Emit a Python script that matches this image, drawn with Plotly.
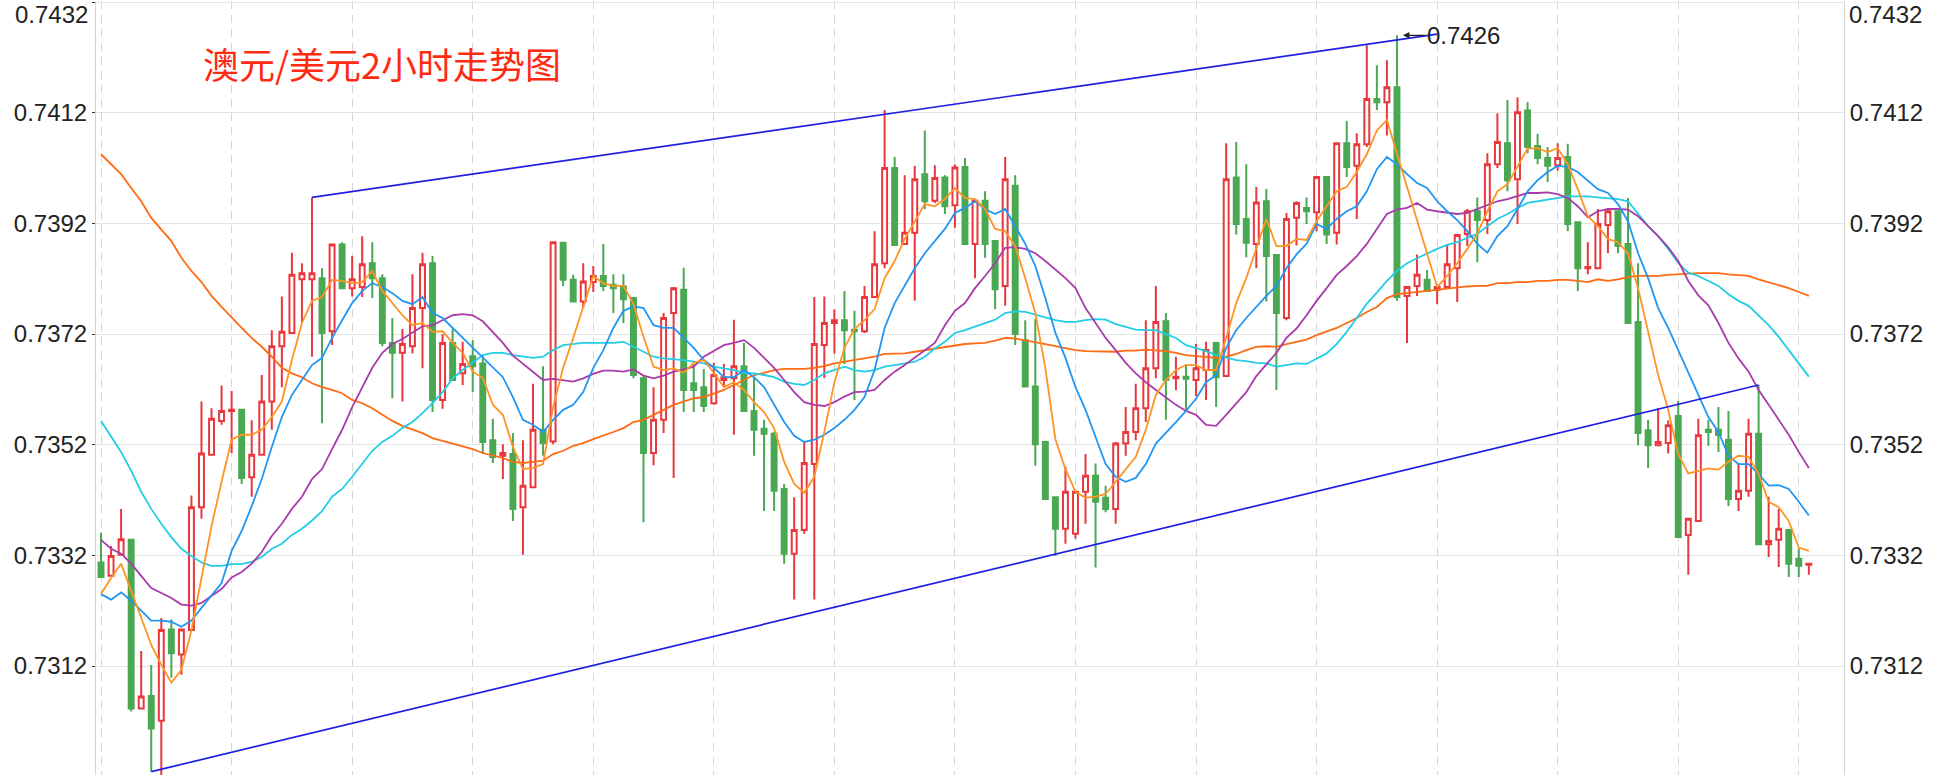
import plotly.graph_objects as go

# ---------------- data ----------------
candle_idx = list(range(171))

opens = [
0.73307, 0.73283, 0.73321, 0.73348, 0.73043, 0.73066, 0.73021, 0.73186, 0.73141, 0.73185,
0.73407, 0.73502, 0.73563, 0.73581, 0.73583, 0.73461, 0.73502, 0.73598, 0.73698, 0.73722,
0.73819, 0.73819, 0.73821, 0.73725, 0.73882, 0.73803, 0.73805, 0.73848, 0.73821, 0.73704,
0.73686, 0.73698, 0.73767, 0.73848, 0.73601, 0.73704, 0.73649, 0.73680, 0.73667, 0.73528,
0.73500, 0.73503, 0.73407, 0.73443, 0.73547, 0.73526, 0.73885, 0.73818, 0.73779, 0.73814,
0.73825, 0.73809, 0.73806, 0.73785, 0.73640, 0.73505, 0.73565, 0.73758, 0.73800, 0.73631,
0.73624, 0.73595, 0.73637, 0.73640, 0.73662, 0.73581, 0.73549, 0.73540, 0.73440, 0.73323,
0.73366, 0.73485, 0.73700, 0.73740, 0.73745, 0.73728, 0.73725, 0.73787, 0.73848, 0.74020,
0.73883, 0.73903, 0.74009, 0.73961, 0.74003, 0.73953, 0.74022, 0.73883, 0.73961, 0.73888,
0.73807, 0.73988, 0.73709, 0.73625, 0.73525, 0.73425, 0.73368, 0.73359, 0.73435, 0.73464,
0.73424, 0.73404, 0.73522, 0.73543, 0.73586, 0.73658, 0.73743, 0.73640, 0.73643, 0.73637,
0.73655, 0.73704, 0.73644, 0.74003, 0.73928, 0.73883, 0.73960, 0.73863, 0.73749, 0.73930,
0.73948, 0.73940, 0.74004, 0.73903, 0.74065, 0.74024, 0.74063, 0.74145, 0.74139, 0.74166,
0.73789, 0.73807, 0.73818, 0.73800, 0.73805, 0.73839, 0.73901, 0.73943, 0.73926, 0.74027,
0.74065, 0.74000, 0.74124, 0.74060, 0.74038, 0.74025, 0.74040, 0.73922, 0.73839, 0.73839,
0.73917, 0.73942, 0.73883, 0.73742, 0.73546, 0.73519, 0.73523, 0.73572, 0.73357, 0.73382,
0.73547, 0.73547, 0.73529, 0.73422, 0.73437, 0.73540, 0.73340, 0.73348, 0.73366, 0.73314,
0.73303]

highs = [
0.73361, 0.73337, 0.73404, 0.73348, 0.73147, 0.73122, 0.73207, 0.73204, 0.73186, 0.73428,
0.73598, 0.73586, 0.73627, 0.73617, 0.73583, 0.73564, 0.73646, 0.73727, 0.73788, 0.73867,
0.73848, 0.73967, 0.73839, 0.73882, 0.73886, 0.73861, 0.73897, 0.73886, 0.73828, 0.73749,
0.73729, 0.73828, 0.73867, 0.73861, 0.73720, 0.73729, 0.73706, 0.73709, 0.73680, 0.73567,
0.73521, 0.73541, 0.73528, 0.73630, 0.73662, 0.73886, 0.73885, 0.73827, 0.73848, 0.73843,
0.73883, 0.73828, 0.73828, 0.73785, 0.73644, 0.73624, 0.73758, 0.73805, 0.73840, 0.73666,
0.73657, 0.73668, 0.73666, 0.73746, 0.73704, 0.73641, 0.73565, 0.73543, 0.73449, 0.73425,
0.73525, 0.73787, 0.73788, 0.73765, 0.73798, 0.73762, 0.73807, 0.73906, 0.74125, 0.74040,
0.74007, 0.74024, 0.74088, 0.74025, 0.74007, 0.74027, 0.74038, 0.73961, 0.73978, 0.73888,
0.74040, 0.74007, 0.73745, 0.73747, 0.73527, 0.73425, 0.73480, 0.73435, 0.73503, 0.73486,
0.73446, 0.73525, 0.73588, 0.73630, 0.73745, 0.73807, 0.73758, 0.73679, 0.73666, 0.73702,
0.73706, 0.73706, 0.74065, 0.74067, 0.74027, 0.73986, 0.73982, 0.73863, 0.73939, 0.73960,
0.73967, 0.74004, 0.74004, 0.74065, 0.74105, 0.74083, 0.74242, 0.74206, 0.74215, 0.74260,
0.73807, 0.73864, 0.73836, 0.73807, 0.73882, 0.73899, 0.73946, 0.73967, 0.74047, 0.74119,
0.74143, 0.74148, 0.74139, 0.74082, 0.74058, 0.74065, 0.74064, 0.73922, 0.73886, 0.73946,
0.73946, 0.73942, 0.73966, 0.73848, 0.73565, 0.73586, 0.73564, 0.73599, 0.73386, 0.73567,
0.73565, 0.73588, 0.73581, 0.73487, 0.73567, 0.73628, 0.73426, 0.73404, 0.73366, 0.73332,
0.73305]

lows = [
0.73279, 0.73283, 0.73321, 0.73038, 0.73043, 0.72929, 0.72920, 0.73099, 0.73104, 0.73185,
0.73386, 0.73502, 0.73556, 0.73505, 0.73449, 0.73426, 0.73502, 0.73547, 0.73624, 0.73722,
0.73742, 0.73679, 0.73559, 0.73700, 0.73803, 0.73788, 0.73787, 0.73785, 0.73698, 0.73604,
0.73598, 0.73685, 0.73658, 0.73579, 0.73585, 0.73637, 0.73628, 0.73615, 0.73503, 0.73487,
0.73458, 0.73382, 0.73321, 0.73443, 0.73500, 0.73521, 0.73807, 0.73779, 0.73767, 0.73796,
0.73798, 0.73758, 0.73740, 0.73640, 0.73380, 0.73483, 0.73541, 0.73460, 0.73579, 0.73579,
0.73579, 0.73592, 0.73624, 0.73538, 0.73579, 0.73500, 0.73400, 0.73400, 0.73305, 0.73240,
0.73359, 0.73240, 0.73640, 0.73685, 0.73666, 0.73601, 0.73722, 0.73785, 0.73839, 0.73879,
0.73883, 0.73780, 0.73946, 0.73957, 0.73937, 0.73912, 0.73883, 0.73821, 0.73858, 0.73765,
0.73771, 0.73700, 0.73625, 0.73482, 0.73422, 0.73319, 0.73341, 0.73350, 0.73377, 0.73298,
0.73398, 0.73377, 0.73500, 0.73528, 0.73561, 0.73640, 0.73565, 0.73619, 0.73583, 0.73608,
0.73601, 0.73588, 0.73644, 0.73900, 0.73859, 0.73839, 0.73779, 0.73619, 0.73745, 0.73880,
0.73919, 0.73906, 0.73883, 0.73882, 0.74004, 0.73928, 0.74058, 0.74125, 0.74079, 0.73780,
0.73704, 0.73789, 0.73798, 0.73774, 0.73803, 0.73778, 0.73879, 0.73850, 0.73901, 0.74020,
0.73978, 0.73919, 0.74047, 0.74027, 0.73995, 0.74015, 0.73906, 0.73798, 0.73828, 0.73839,
0.73866, 0.73866, 0.73738, 0.73519, 0.73478, 0.73519, 0.73504, 0.73353, 0.73285, 0.73382,
0.73518, 0.73507, 0.73409, 0.73400, 0.73426, 0.73340, 0.73317, 0.73299, 0.73281, 0.73281,
0.73285]

closes = [
0.73281, 0.73319, 0.73349, 0.73043, 0.73065, 0.73007, 0.73185, 0.73143, 0.73186, 0.73407,
0.73504, 0.73567, 0.73581, 0.73583, 0.73460, 0.73502, 0.73598, 0.73698, 0.73724, 0.73827,
0.73830, 0.73830, 0.73722, 0.73882, 0.73803, 0.73819, 0.73846, 0.73821, 0.73704, 0.73686,
0.73702, 0.73767, 0.73846, 0.73601, 0.73704, 0.73637, 0.73666, 0.73662, 0.73525, 0.73498,
0.73505, 0.73404, 0.73446, 0.73547, 0.73523, 0.73886, 0.73818, 0.73779, 0.73815, 0.73825,
0.73807, 0.73803, 0.73783, 0.73646, 0.73505, 0.73565, 0.73749, 0.73803, 0.73619, 0.73619,
0.73590, 0.73646, 0.73642, 0.73662, 0.73581, 0.73547, 0.73540, 0.73437, 0.73323, 0.73366,
0.73487, 0.73702, 0.73740, 0.73745, 0.73727, 0.73725, 0.73787, 0.73846, 0.74020, 0.73881,
0.73903, 0.74000, 0.73960, 0.74002, 0.73951, 0.74021, 0.73883, 0.73961, 0.73883, 0.73801,
0.74000, 0.73720, 0.73625, 0.73521, 0.73422, 0.73368, 0.73435, 0.73435, 0.73464, 0.73417,
0.73404, 0.73522, 0.73543, 0.73586, 0.73658, 0.73742, 0.73637, 0.73643, 0.73639, 0.73658,
0.73691, 0.73642, 0.74000, 0.73919, 0.73885, 0.73958, 0.73861, 0.73758, 0.73928, 0.73957,
0.73942, 0.74004, 0.73900, 0.74065, 0.74022, 0.74063, 0.74145, 0.74139, 0.74166, 0.73787,
0.73805, 0.73827, 0.73798, 0.73805, 0.73846, 0.73899, 0.73942, 0.73926, 0.74027, 0.74067,
0.73998, 0.74121, 0.74058, 0.74038, 0.74024, 0.74038, 0.73919, 0.73839, 0.73841, 0.73919,
0.73942, 0.73879, 0.73740, 0.73541, 0.73519, 0.73525, 0.73555, 0.73353, 0.73386, 0.73537,
0.73543, 0.73538, 0.73422, 0.73437, 0.73540, 0.73340, 0.73346, 0.73368, 0.73305, 0.73301,
0.73305]

ma5 = [
0.73250, 0.73279, 0.73305, 0.73256, 0.73207, 0.73158, 0.73122, 0.73090, 0.73113, 0.73185,
0.73279, 0.73373, 0.73453, 0.73529, 0.73538, 0.73538, 0.73547, 0.73570, 0.73598, 0.73673,
0.73740, 0.73780, 0.73787, 0.73818, 0.73816, 0.73812, 0.73814, 0.73834, 0.73798, 0.73776,
0.73754, 0.73736, 0.73740, 0.73724, 0.73725, 0.73704, 0.73686, 0.73652, 0.73641, 0.73592,
0.73574, 0.73516, 0.73476, 0.73478, 0.73485, 0.73588, 0.73659, 0.73713, 0.73767, 0.73825,
0.73812, 0.73807, 0.73807, 0.73774, 0.73715, 0.73661, 0.73655, 0.73658, 0.73650, 0.73668,
0.73673, 0.73650, 0.73624, 0.73633, 0.73619, 0.73597, 0.73579, 0.73550, 0.73489, 0.73449,
0.73433, 0.73462, 0.73543, 0.73633, 0.73695, 0.73729, 0.73745, 0.73765, 0.73821, 0.73852,
0.73892, 0.73924, 0.73955, 0.73951, 0.73964, 0.73984, 0.73966, 0.73964, 0.73946, 0.73910,
0.73906, 0.73879, 0.73821, 0.73758, 0.73659, 0.73530, 0.73476, 0.73435, 0.73424, 0.73426,
0.73431, 0.73453, 0.73476, 0.73498, 0.73547, 0.73610, 0.73637, 0.73655, 0.73664, 0.73664,
0.73655, 0.73655, 0.73713, 0.73776, 0.73821, 0.73874, 0.73928, 0.73879, 0.73879, 0.73892,
0.73890, 0.73924, 0.73951, 0.73978, 0.73986, 0.74013, 0.74045, 0.74088, 0.74107, None,
None, None, None, 0.73805, 0.73825, 0.73848, 0.73874, 0.73901, 0.73942, 0.73978,
0.73991, 0.74022, 0.74055, 0.74056, 0.74049, 0.74056, 0.74027, 0.73982, 0.73933, 0.73915,
0.73892, 0.73886, 0.73866, 0.73803, 0.73727, 0.73646, 0.73583, 0.73503, 0.73468, 0.73473,
0.73477, 0.73475, 0.73489, 0.73500, 0.73498, 0.73467, 0.73417, 0.73407, 0.73382, 0.73334,
0.73328]

ma10 = [
0.73250, 0.73240, 0.73253, 0.73238, 0.73220, 0.73202, 0.73202, 0.73200, 0.73191, 0.73202,
0.73225, 0.73247, 0.73270, 0.73328, 0.73364, 0.73409, 0.73458, 0.73516, 0.73570, 0.73610,
0.73637, 0.73664, 0.73677, 0.73713, 0.73745, 0.73776, 0.73798, 0.73812, 0.73805, 0.73794,
0.73780, 0.73774, 0.73787, 0.73758, 0.73749, 0.73731, 0.73713, 0.73695, 0.73677, 0.73659,
0.73642, 0.73606, 0.73565, 0.73556, 0.73543, 0.73565, 0.73583, 0.73592, 0.73615, 0.73659,
0.73691, 0.73731, 0.73762, 0.73770, 0.73767, 0.73736, 0.73731, 0.73731, 0.73713, 0.73695,
0.73673, 0.73659, 0.73642, 0.73642, 0.73655, 0.73642, 0.73624, 0.73592, 0.73561, 0.73536,
0.73525, 0.73529, 0.73538, 0.73550, 0.73565, 0.73583, 0.73606, 0.73655, 0.73731, 0.73776,
0.73807, 0.73839, 0.73866, 0.73888, 0.73910, 0.73939, 0.73948, 0.73960, 0.73946, 0.73937,
0.73946, 0.73915, 0.73883, 0.73843, 0.73785, 0.73722, 0.73677, 0.73624, 0.73583, 0.73534,
0.73485, 0.73462, 0.73453, 0.73460, 0.73485, 0.73522, 0.73541, 0.73561, 0.73581, 0.73603,
0.73633, 0.73646, 0.73695, 0.73727, 0.73749, 0.73770, 0.73789, 0.73807, 0.73839, 0.73864,
0.73883, 0.73919, 0.73910, 0.73928, 0.73942, 0.73951, 0.73978, 0.74018, 0.74040, 0.74027,
0.74009, 0.73993, 0.73984, 0.73960, 0.73942, 0.73926, 0.73906, 0.73883, 0.73867, 0.73897,
0.73915, 0.73946, 0.73978, 0.73998, 0.74013, 0.74024, 0.74022, 0.74013, 0.73998, 0.73982,
0.73975, 0.73955, 0.73924, 0.73866, 0.73821, 0.73767, 0.73731, 0.73691, 0.73650, 0.73610,
0.73570, 0.73543, 0.73500, 0.73485, 0.73485, 0.73467, 0.73446, 0.73447, 0.73440, 0.73417,
0.73392]

ma20 = [
0.73348, 0.73332, 0.73323, 0.73305, 0.73283, 0.73261, 0.73252, 0.73243, 0.73231, 0.73229,
0.73234, 0.73247, 0.73259, 0.73280, 0.73290, 0.73305, 0.73326, 0.73355, 0.73377, 0.73404,
0.73426, 0.73458, 0.73476, 0.73512, 0.73547, 0.73588, 0.73624, 0.73659, 0.73686, 0.73702,
0.73711, 0.73722, 0.73734, 0.73736, 0.73745, 0.73754, 0.73756, 0.73754, 0.73743, 0.73724,
0.73704, 0.73681, 0.73666, 0.73652, 0.73637, 0.73639, 0.73637, 0.73634, 0.73640, 0.73648,
0.73654, 0.73654, 0.73652, 0.73656, 0.73645, 0.73640, 0.73645, 0.73652, 0.73656, 0.73661,
0.73679, 0.73689, 0.73700, 0.73704, 0.73709, 0.73695, 0.73677, 0.73659, 0.73637, 0.73615,
0.73597, 0.73592, 0.73590, 0.73597, 0.73607, 0.73615, 0.73616, 0.73619, 0.73637, 0.73652,
0.73664, 0.73677, 0.73691, 0.73704, 0.73736, 0.73762, 0.73776, 0.73803, 0.73825, 0.73848,
0.73876, 0.73877, 0.73874, 0.73866, 0.73852, 0.73837, 0.73821, 0.73803, 0.73767, 0.73740,
0.73713, 0.73691, 0.73668, 0.73649, 0.73633, 0.73619, 0.73606, 0.73592, 0.73581, 0.73574,
0.73556, 0.73554, 0.73574, 0.73595, 0.73615, 0.73644, 0.73664, 0.73686, 0.73713, 0.73730,
0.73754, 0.73780, 0.73803, 0.73827, 0.73843, 0.73861, 0.73883, 0.73909, 0.73937, 0.73945,
0.73948, 0.73957, 0.73945, 0.73942, 0.73939, 0.73937, 0.73939, 0.73946, 0.73953, 0.73960,
0.73964, 0.73969, 0.73975, 0.73975, 0.73976, 0.73973, 0.73966, 0.73951, 0.73931, 0.73942,
0.73946, 0.73946, 0.73945, 0.73933, 0.73915, 0.73897, 0.73877, 0.73852, 0.73816, 0.73790,
0.73772, 0.73740, 0.73704, 0.73676, 0.73652, 0.73619, 0.73592, 0.73565, 0.73538, 0.73507,
0.73478]

ma30 = [
0.73563, 0.73534, 0.73507, 0.73473, 0.73435, 0.73404, 0.73377, 0.73353, 0.73332, 0.73319,
0.73307, 0.73301, 0.73301, 0.73304, 0.73304, 0.73308, 0.73317, 0.73332, 0.73341, 0.73357,
0.73368, 0.73383, 0.73400, 0.73426, 0.73440, 0.73462, 0.73485, 0.73509, 0.73525, 0.73536,
0.73550, 0.73561, 0.73577, 0.73595, 0.73615, 0.73640, 0.73655, 0.73669, 0.73682, 0.73686,
0.73686, 0.73682, 0.73679, 0.73677, 0.73679, 0.73691, 0.73700, 0.73702, 0.73704, 0.73704,
0.73704, 0.73704, 0.73706, 0.73697, 0.73688, 0.73679, 0.73676, 0.73675, 0.73673, 0.73670,
0.73667, 0.73661, 0.73658, 0.73655, 0.73650, 0.73649, 0.73646, 0.73642, 0.73634, 0.73630,
0.73628, 0.73637, 0.73649, 0.73655, 0.73661, 0.73655, 0.73652, 0.73655, 0.73661, 0.73664,
0.73667, 0.73670, 0.73679, 0.73694, 0.73706, 0.73722, 0.73727, 0.73733, 0.73740, 0.73746,
0.73758, 0.73761, 0.73760, 0.73755, 0.73751, 0.73745, 0.73742, 0.73742, 0.73745, 0.73747,
0.73746, 0.73738, 0.73733, 0.73728, 0.73727, 0.73727, 0.73720, 0.73713, 0.73700, 0.73695,
0.73689, 0.73682, 0.73677, 0.73673, 0.73671, 0.73668, 0.73667, 0.73661, 0.73664, 0.73667,
0.73666, 0.73676, 0.73685, 0.73702, 0.73724, 0.73749, 0.73775, 0.73795, 0.73816, 0.73834,
0.73848, 0.73857, 0.73866, 0.73874, 0.73881, 0.73886, 0.73894, 0.73901, 0.73915, 0.73928,
0.73937, 0.73948, 0.73957, 0.73960, 0.73964, 0.73967, 0.73969, 0.73969, 0.73969, 0.73967,
0.73966, 0.73964, 0.73960, 0.73937, 0.73915, 0.73897, 0.73874, 0.73848, 0.73831, 0.73825,
0.73816, 0.73807, 0.73792, 0.73780, 0.73771, 0.73754, 0.73736, 0.73715, 0.73691, 0.73669,
0.73643]

ma60 = [
0.74045, 0.74027, 0.74009, 0.73984, 0.73960, 0.73930, 0.73910, 0.73888, 0.73858, 0.73834,
0.73814, 0.73789, 0.73769, 0.73749, 0.73731, 0.73713, 0.73697, 0.73679, 0.73659, 0.73649,
0.73642, 0.73631, 0.73624, 0.73619, 0.73613, 0.73601, 0.73595, 0.73586, 0.73574, 0.73563,
0.73554, 0.73547, 0.73541, 0.73532, 0.73527, 0.73521, 0.73516, 0.73512, 0.73505, 0.73500,
0.73496, 0.73489, 0.73487, 0.73489, 0.73491, 0.73503, 0.73509, 0.73518, 0.73523, 0.73530,
0.73536, 0.73543, 0.73550, 0.73561, 0.73565, 0.73574, 0.73583, 0.73592, 0.73598, 0.73604,
0.73606, 0.73613, 0.73619, 0.73628, 0.73637, 0.73646, 0.73650, 0.73655, 0.73657, 0.73657,
0.73657, 0.73659, 0.73662, 0.73667, 0.73670, 0.73673, 0.73676, 0.73679, 0.73684, 0.73684,
0.73685, 0.73688, 0.73691, 0.73694, 0.73696, 0.73700, 0.73702, 0.73703, 0.73704, 0.73708,
0.73713, 0.73712, 0.73709, 0.73706, 0.73702, 0.73698, 0.73694, 0.73691, 0.73689, 0.73689,
0.73689, 0.73688, 0.73690, 0.73690, 0.73692, 0.73691, 0.73689, 0.73686, 0.73682, 0.73680,
0.73679, 0.73677, 0.73679, 0.73684, 0.73691, 0.73697, 0.73698, 0.73697, 0.73702, 0.73706,
0.73710, 0.73718, 0.73724, 0.73731, 0.73740, 0.73749, 0.73760, 0.73769, 0.73785, 0.73792,
0.73794, 0.73796, 0.73798, 0.73800, 0.73803, 0.73805, 0.73806, 0.73807, 0.73807, 0.73812,
0.73812, 0.73814, 0.73814, 0.73816, 0.73816, 0.73818, 0.73818, 0.73816, 0.73814, 0.73819,
0.73816, 0.73819, 0.73823, 0.73825, 0.73825, 0.73825, 0.73827, 0.73828, 0.73830, 0.73830,
0.73830, 0.73830, 0.73828, 0.73827, 0.73825, 0.73819, 0.73814, 0.73809, 0.73803, 0.73796,
0.73789]

# channel lines: (candle index, price) end points
upper_idx = [21, 133]
upper_px = [0.73967, 0.74262]
lower_idx = [5, 165]
lower_px = [0.72929, 0.73628]

# label of the top high
high_idx = 129
high_px = 0.7426
high_label = "0.7426"

# axes
price_ticks = [0.7312, 0.7332, 0.7352, 0.7372, 0.7392, 0.7412, 0.7432]
price_labels = ["0.7312", "0.7332", "0.7352", "0.7372", "0.7392", "0.7412", ""]
top_label = "0.7432"
day_ticks = [0, 13, 25, 37, 49, 61, 73, 85, 97, 109, 121, 133, 145, 157, 169]
y_range = [0.72923, 0.74322]
x_range = [-0.5, 173.5]

title_text = "澳元/美元2小时走势图"

# ---------------- figure ----------------
RED = "#e8383d"
GREEN = "#4aa853"
LABEL_FONT = dict(family="Liberation Sans, Arial, sans-serif", size=24, color="#222222")

fig = go.Figure()

fig.add_trace(go.Candlestick(
    x=candle_idx, open=opens, high=highs, low=lows, close=closes,
    increasing=dict(line=dict(color=RED, width=2), fillcolor="#ffffff"),
    decreasing=dict(line=dict(color=GREEN, width=2), fillcolor=GREEN),
    whiskerwidth=0, showlegend=False,
))

ma_series = [
    (ma60, "#ff6a12"),
    (ma30, "#22cde6"),
    (ma20, "#a93bab"),
    (ma10, "#2196f3"),
    (ma5, "#ff9423"),
]
for vals, col in ma_series:
    fig.add_trace(go.Scatter(
        x=candle_idx, y=vals, mode="lines", connectgaps=True,
        line=dict(color=col, width=1.8), showlegend=False, hoverinfo="skip",
    ))

for xs, ys in [(upper_idx, upper_px), (lower_idx, lower_px)]:
    fig.add_trace(go.Scatter(
        x=xs, y=ys, mode="lines", line=dict(color="#1f1fe4", width=1.7),
        showlegend=False, hoverinfo="skip",
    ))

# invisible trace so the right-hand axis exists
fig.add_trace(go.Scatter(x=[candle_idx[0]], y=[closes[0]], yaxis="y2", mode="markers",
                         marker=dict(opacity=0), showlegend=False, hoverinfo="skip"))

fig.update_layout(
    width=1934, height=778,
    margin=dict(l=96, r=90, t=1, b=3),
    paper_bgcolor="white", plot_bgcolor="white",
    showlegend=False,
    boxgap=0.3, boxgroupgap=0.3,
    xaxis=dict(
        range=x_range, tickvals=day_ticks, showticklabels=False, ticks="",
        showgrid=True, gridcolor="#d6d6d6", gridwidth=1, griddash="8px,6px",
        zeroline=False, showline=False, rangeslider=dict(visible=False),
    ),
    yaxis=dict(
        range=y_range, tickvals=price_ticks, ticktext=price_labels,
        showgrid=True, gridcolor="#e4e4e4", gridwidth=1, zeroline=False,
        showline=True, linecolor="#d4d4d4", linewidth=1,
        ticks="outside", ticklen=3, tickcolor="#333333",
        tickfont=LABEL_FONT,
    ),
    yaxis2=dict(
        range=y_range, overlaying="y", side="right",
        tickvals=price_ticks, ticktext=price_labels,
        showgrid=False, zeroline=False, showline=True, linecolor="#d4d4d4",
        ticks="", tickfont=LABEL_FONT,
    ),
    annotations=[
        dict(text=title_text, xref="paper", yref="paper", x=0.0601, y=0.92,
             xanchor="left", yanchor="middle", showarrow=False,
             font=dict(family="Noto Sans CJK SC", size=36, color="#ff2a12")),
        dict(text=top_label, xref="paper", yref="paper", x=0, y=0.982,
             xanchor="right", yanchor="middle", xshift=-6, showarrow=False,
             font=LABEL_FONT),
        dict(text=top_label, xref="paper", yref="paper", x=1, y=0.982,
             xanchor="left", yanchor="middle", xshift=3, showarrow=False,
             font=LABEL_FONT),
        dict(text=high_label, x=high_idx, y=high_px, xref="x", yref="y",
             showarrow=True, ax=28, ay=0, xanchor="left", yanchor="middle",
             arrowhead=2, arrowsize=1, arrowwidth=1.3, arrowcolor="#222222",
             standoff=6, font=LABEL_FONT),
    ],
)

fig.write_html("out.html", config={"displayModeBar": False},
               post_script="document.body.style.margin='0';")
